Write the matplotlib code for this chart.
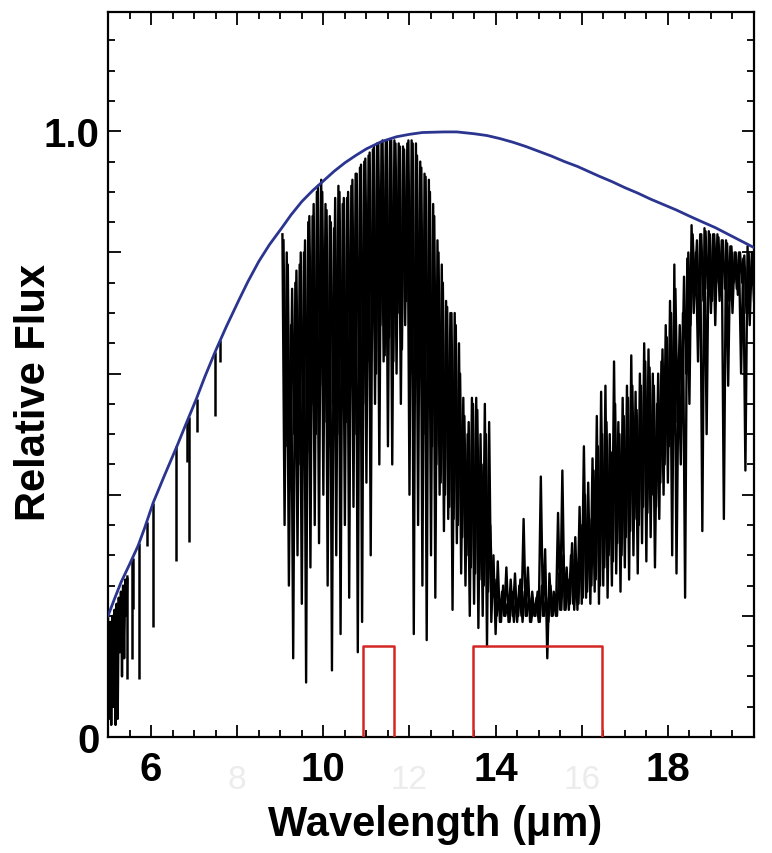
import numpy as np
import matplotlib
matplotlib.use("Agg")
import matplotlib.pyplot as plt
from matplotlib.ticker import FixedLocator, MultipleLocator, FixedFormatter

plt.rcParams['font.family'] = ['Liberation Sans', 'DejaVu Sans']

############################### Données lues sur la figure
# courbe du corps noir (bleue)
bb_wl = [5.0, 5.15, 5.3, 5.5, 5.7, 5.85, 6.05, 6.3, 6.45, 6.6, 6.8, 7.05, 7.25,
         7.5, 7.75, 8.05, 8.25, 8.5, 8.75, 9.05, 9.25, 9.5, 9.75, 10.0, 10.25,
         10.5, 10.75, 11.0, 11.35, 11.7, 12.0, 12.3, 12.8, 13.1, 13.5, 13.8,
         14.1, 14.4, 14.7, 15.0, 15.3, 15.6, 15.9, 16.4, 16.7, 17.0, 17.3, 17.6,
         17.9, 18.2, 18.5, 18.75, 19.1, 19.4, 19.7, 20.0]
bb_flux = [0.20, 0.228, 0.255, 0.285, 0.316, 0.345, 0.387, 0.43, 0.455, 0.48,
           0.515, 0.558, 0.595, 0.638, 0.678, 0.723, 0.752, 0.785, 0.813, 0.842,
           0.862, 0.884, 0.902, 0.918, 0.934, 0.948, 0.960, 0.971, 0.983, 0.991,
           0.995, 0.998, 0.999, 0.999, 0.996, 0.993, 0.988, 0.982, 0.975, 0.967,
           0.959, 0.950, 0.942, 0.926, 0.917, 0.907, 0.898, 0.888, 0.879, 0.870,
           0.860, 0.852, 0.841, 0.830, 0.819, 0.808]

# paquet de raies serrées au bord gauche (pas de 0.025 um)
left_start, left_step = 5.0, 0.025
left_flux = [0.20, 0.03, 0.19, 0.02, 0.20, 0.05, 0.21, 0.02, 0.22, 0.03,
             0.23, 0.14, 0.24, 0.10, 0.25, 0.13, 0.26, 0.20, 0.265]

# raies isolées entre 5.4 et 7.7 um : position, haut, bas
line_wl = [5.43, 5.55, 5.59, 5.73, 5.90, 6.05, 6.59, 6.84, 6.87, 7.06, 7.48, 7.60]
line_top = [0.265, 0.29, 0.295, 0.32, 0.355, 0.387, 0.48, 0.523, 0.528, 0.558, 0.635, 0.655]
line_bot = [0.096, 0.129, 0.211, 0.096, 0.316, 0.181, 0.291, 0.454, 0.322, 0.503, 0.530, 0.619]

# spectre principal, raies profondes, de 9.05 à 20.0 um (pas de 0.05 um)
spec_start, spec_step = 9.05, 0.05
spec_flux = [
    0.83, 0.35, 0.80, 0.25, 0.68, 0.13, 0.75, 0.30, 0.78, 0.22,     # 9.05-9.50
    0.80, 0.09, 0.85, 0.28, 0.86, 0.35, 0.90, 0.32, 0.92, 0.40,     # 9.55-10.00
    0.88, 0.25, 0.86, 0.11, 0.84, 0.30, 0.91, 0.17, 0.88, 0.35,     # 10.05-10.50
    0.89, 0.23, 0.91, 0.38, 0.93, 0.14, 0.94, 0.19, 0.95, 0.42,     # 10.55-11.00
    0.96, 0.30, 0.97, 0.55, 0.98, 0.45, 0.98, 0.62, 0.985, 0.48,    # 11.05-11.50
    0.985, 0.45, 0.985, 0.60, 0.98, 0.55, 0.975, 0.68, 0.98, 0.40,  # 11.55-12.00
    0.985, 0.17, 0.98, 0.35, 0.95, 0.25, 0.93, 0.16, 0.92, 0.30,    # 12.05-12.50
    0.88, 0.23, 0.82, 0.40, 0.78, 0.34, 0.72, 0.36, 0.70, 0.21,     # 12.55-13.00
    0.70, 0.32, 0.65, 0.27, 0.56, 0.25, 0.50, 0.20, 0.56, 0.22,     # 13.05-13.50
    0.56, 0.18, 0.50, 0.20, 0.55, 0.15, 0.52, 0.19, 0.30, 0.17,     # 13.55-14.00
    0.29, 0.19, 0.24, 0.20, 0.28, 0.19, 0.26, 0.20, 0.27, 0.19,     # 14.05-14.50
    0.25, 0.20, 0.36, 0.20, 0.28, 0.19, 0.24, 0.20, 0.23, 0.19,     # 14.55-15.00
    0.43, 0.20, 0.31, 0.13, 0.27, 0.20, 0.24, 0.20, 0.37, 0.21,     # 15.05-15.50
    0.44, 0.21, 0.28, 0.21, 0.30, 0.22, 0.33, 0.21, 0.38, 0.22,     # 15.55-16.00
    0.48, 0.23, 0.42, 0.22, 0.46, 0.24, 0.53, 0.22, 0.57, 0.25,     # 16.05-16.50
    0.58, 0.23, 0.50, 0.25, 0.62, 0.27, 0.52, 0.24, 0.56, 0.28,     # 16.55-17.00
    0.58, 0.26, 0.63, 0.30, 0.57, 0.27, 0.60, 0.32, 0.65, 0.29,     # 17.05-17.50
    0.64, 0.33, 0.60, 0.28, 0.55, 0.36, 0.62, 0.40, 0.68, 0.42,     # 17.55-18.00
    0.72, 0.30, 0.78, 0.27, 0.62, 0.45, 0.70, 0.23, 0.79, 0.55,     # 18.05-18.50
    0.845, 0.70, 0.80, 0.62, 0.83, 0.34, 0.84, 0.50, 0.835, 0.70,   # 18.55-19.00
    0.83, 0.68, 0.83, 0.72, 0.82, 0.36, 0.82, 0.58, 0.81, 0.70,     # 19.05-19.50
    0.80, 0.74, 0.80, 0.60, 0.79, 0.44, 0.81, 0.68, 0.80, 0.72,     # 19.55-20.00
]

# raies moins profondes du même spectre, décalées d'un demi-pas (9.075 à 19.975 um)
bulk_start, bulk_step = 9.075, 0.05
bulk_flux = [
    0.82, 0.48, 0.78, 0.42, 0.74, 0.50, 0.77, 0.45, 0.80, 0.52,     # 9.075-9.525
    0.82, 0.47, 0.86, 0.55, 0.88, 0.50, 0.91, 0.58, 0.90, 0.52,     # 9.575-10.025
    0.87, 0.48, 0.85, 0.55, 0.89, 0.50, 0.90, 0.56, 0.89, 0.52,     # 10.075-10.525
    0.90, 0.58, 0.92, 0.50, 0.93, 0.60, 0.945, 0.55, 0.955, 0.62,   # 10.575-11.025
    0.965, 0.65, 0.975, 0.60, 0.98, 0.68, 0.985, 0.63, 0.985, 0.66, # 11.075-11.525
    0.985, 0.62, 0.98, 0.70, 0.975, 0.64, 0.97, 0.72, 0.985, 0.60,  # 11.575-12.025
    0.98, 0.55, 0.96, 0.60, 0.94, 0.50, 0.925, 0.55, 0.90, 0.48,    # 12.075-12.525
    0.86, 0.45, 0.80, 0.42, 0.75, 0.40, 0.71, 0.38, 0.70, 0.36,     # 12.575-13.025
    0.68, 0.35, 0.60, 0.33, 0.53, 0.30, 0.52, 0.28, 0.55, 0.27,     # 13.075-13.525
    0.54, 0.26, 0.45, 0.25, 0.50, 0.24, 0.35, 0.23, 0.26, 0.20,     # 13.575-14.025
    0.23, 0.19, 0.25, 0.20, 0.22, 0.19, 0.24, 0.19, 0.23, 0.20,     # 14.075-14.525
    0.26, 0.19, 0.24, 0.20, 0.23, 0.19, 0.22, 0.20, 0.24, 0.19,     # 14.575-15.025
    0.25, 0.20, 0.23, 0.19, 0.25, 0.20, 0.22, 0.20, 0.27, 0.21,     # 15.075-15.525
    0.30, 0.21, 0.26, 0.22, 0.32, 0.21, 0.28, 0.22, 0.35, 0.23,     # 15.575-16.025
    0.40, 0.24, 0.36, 0.25, 0.44, 0.26, 0.48, 0.25, 0.50, 0.28,     # 16.075-16.525
    0.52, 0.30, 0.47, 0.29, 0.55, 0.32, 0.50, 0.30, 0.53, 0.33,     # 16.575-17.025
    0.56, 0.34, 0.58, 0.36, 0.54, 0.35, 0.58, 0.38, 0.62, 0.37,     # 17.075-17.525
    0.61, 0.40, 0.58, 0.38, 0.60, 0.42, 0.64, 0.45, 0.66, 0.48,     # 17.575-18.025
    0.70, 0.50, 0.74, 0.52, 0.68, 0.55, 0.76, 0.60, 0.80, 0.68,     # 18.075-18.525
    0.83, 0.74, 0.82, 0.70, 0.83, 0.72, 0.835, 0.74, 0.83, 0.72,    # 18.575-19.025
    0.83, 0.75, 0.825, 0.73, 0.82, 0.74, 0.815, 0.72, 0.81, 0.75,   # 19.075-19.525
    0.80, 0.73, 0.80, 0.75, 0.795, 0.70, 0.80, 0.74, 0.80,          # 19.575-19.975
]

# bandes des filtres (rouge)
band_lo = [10.92, 13.47]
band_hi = [11.64, 16.48]
band_height = 0.15

x_labels = {6: "6", 10: "10", 14: "14", 18: "18"}
ghost_labels = [8, 12, 16]

################################ Figure
fig = plt.figure(figsize=(7.72, 8.54), dpi=100)
ax = fig.add_axes([0.1399, 0.1358, 0.8368, 0.849])

left_wl = left_start + left_step * np.arange(len(left_flux))
spec_wl = spec_start + spec_step * np.arange(len(spec_flux))
bulk_wl = bulk_start + bulk_step * np.arange(len(bulk_flux))

ax.plot(left_wl, left_flux, color='black', lw=1.7, zorder=2)
ax.vlines(line_wl, line_bot, line_top, color='black', lw=1.8, zorder=2)
ax.plot(spec_wl, spec_flux, color='black', lw=1.7, zorder=2)
ax.plot(bulk_wl, bulk_flux, color='black', lw=1.7, zorder=2)
ax.plot(bb_wl, bb_flux, color='#2b3590', lw=2.0, zorder=3)

for lo, hi in zip(band_lo, band_hi):
    ax.plot([lo, lo, hi, hi], [0, band_height, band_height, 0],
            color='#d42624', lw=1.8, zorder=4)

ax.set_xlim(5, 20)
ax.set_ylim(0, 1.197)

# graduations
ax.xaxis.set_major_locator(FixedLocator(np.arange(6, 21, 2)))
ax.xaxis.set_major_formatter(FixedFormatter([x_labels.get(v, "") for v in range(6, 21, 2)]))
ax.xaxis.set_minor_locator(MultipleLocator(0.5))
ax.yaxis.set_major_locator(FixedLocator([0, 0.2, 0.4, 0.6, 0.8, 1.0]))
ax.yaxis.set_major_formatter(FixedFormatter(["0", "", "", "", "", "1.0"]))
ax.yaxis.set_minor_locator(MultipleLocator(0.05))

ax.tick_params(which='both', direction='in', top=True, right=True, width=1.3)
ax.tick_params(which='major', length=9)
ax.tick_params(which='minor', length=5)
ax.tick_params(axis='x', which='major', pad=9, labelsize=29)
ax.tick_params(axis='y', which='major', pad=6, labelsize=29)
for lab in ax.get_xticklabels() + ax.get_yticklabels():
    lab.set_fontweight('bold')
for sp in ax.spines.values():
    sp.set_linewidth(1.6)

# étiquettes fantômes très pâles
for g in ghost_labels:
    ax.text(g, -0.07, str(g), transform=ax.transData, ha='center', va='center',
            fontsize=24, color='#ececec', clip_on=False)

ax.set_xlabel("Wavelength (\u03bcm)", fontsize=30, fontweight='bold')
ax.set_ylabel("Relative Flux", fontsize=30, fontweight='bold')
ax.xaxis.set_label_coords(0.506, -0.092)
ax.yaxis.set_label_coords(-0.083, 0.477)

fig.savefig("out.png", dpi=100)
